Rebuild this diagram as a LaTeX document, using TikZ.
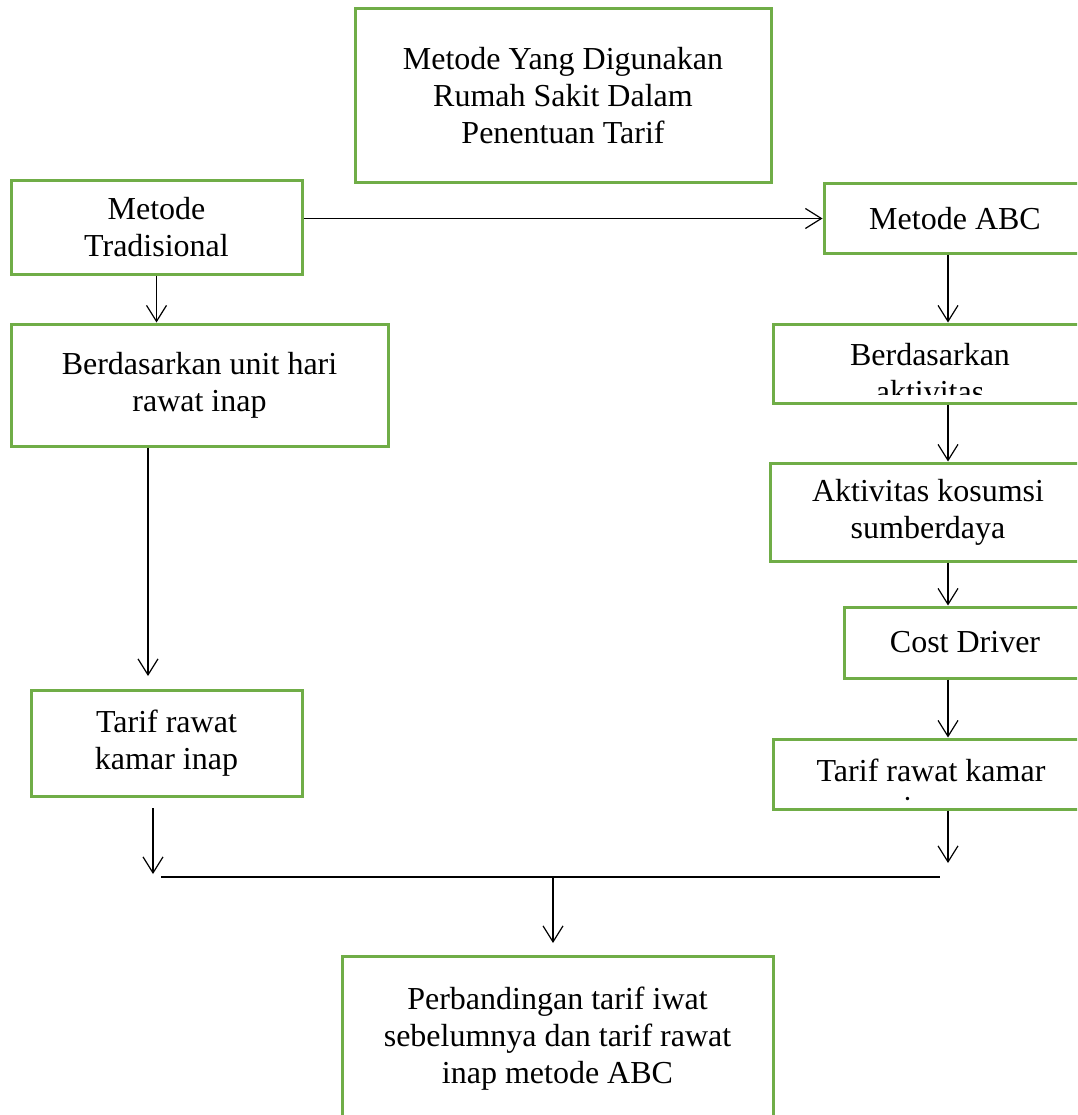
\documentclass[tikz,border=0pt]{standalone}
\usepackage{fontspec}
\setmainfont{Liberation Serif}
\usetikzlibrary{arrows.meta}
\definecolor{boxgreen}{RGB}{112,173,71}
\tikzset{
  box/.style={draw=boxgreen, line width=3pt, rectangle, inner sep=0pt, align=center,
    font=\fontsize{32}{37}\selectfont},
  txt/.style={inner sep=0pt, align=center, font=\fontsize{32}{37}\selectfont},
  conn/.style={draw=black, line width=1.3pt},
  arr/.style={conn, -{Straight Barb[length=16pt,width=20pt,line width=1.2pt]}}
}
\begin{document}
\begin{tikzpicture}[x=1pt,y=-1pt]
\useasboundingbox (0,0) rectangle (1077,1115);
\clip (0,0) rectangle (1077,1115);

% boxes
\node[box, minimum width=416pt, minimum height=174pt] (top) at (563,96)
  {Metode Yang Digunakan\\Rumah Sakit Dalam\\Penentuan Tarif};
\node[box, minimum width=291pt, minimum height=93pt] (trad) at (156.5,227.5)
  {Metode\\Tradisional};
\node[box, minimum width=377pt, minimum height=122pt] (unit) at (199.5,385)
  {Berdasarkan unit hari\\rawat inap};
\node[box, minimum width=271pt, minimum height=106pt] (tarifL) at (166.5,743)
  {Tarif rawat\\kamar inap};
\node[box, minimum width=262pt, minimum height=69pt] (abc) at (955,218.5)
  {Metode ABC};
\node[box, minimum width=314pt, minimum height=79pt] (akt1) at (930,363.5) {};
\begin{scope}
  \clip (akt1.north west) rectangle ([yshift=10pt]akt1.south east);
  \node[txt] (akt1t) at ([yshift=-10pt]akt1.center) {Berdasarkan\\aktivitas};
\end{scope}
\node[box, minimum width=316pt, minimum height=98pt] (akt2) at (928,512)
  {Aktivitas kosumsi\\sumberdaya};
\node[box, minimum width=242pt, minimum height=71pt] (cost) at (965,642.5)
  {Cost Driver};
\node[box, minimum width=316pt, minimum height=70pt] (tarifR) at (931,774) {};
\begin{scope}
  \clip (tarifR.north west) rectangle ([yshift=10.5pt]tarifR.south east);
  \node[txt] (tarifRt) at ([yshift=-18.5pt]tarifR.center) {Tarif rawat kamar\\inap};
\end{scope}
\node[box, minimum width=431pt, minimum height=166pt] (bot) at (557.5,1039)
  {Perbandingan tarif iwat\\sebelumnya dan tarif rawat\\inap metode ABC};

% helper coordinates
\coordinate (rc) at (948,0);
\coordinate (lc) at (148,0);
\coordinate (ltip) at (148,676);
\coordinate (ls) at (153,808);
\coordinate (le) at (153,874);
\coordinate (rj) at (948,863);
\coordinate (hl) at (161,877);
\coordinate (hr) at (940,877);
\coordinate (hm) at (553,877);
\coordinate (btip) at (553,943);

% connectors
\draw[arr] (trad.south) -- (trad.south |- unit.north);
\draw[arr] (abc.west -| trad.east) -- (abc.west);
\draw[arr] (lc |- unit.south) -- (ltip);
\draw[arr] (ls) -- (le);
\draw[arr] (rc |- abc.south) -- (rc |- akt1.north);
\draw[arr] (rc |- akt1.south) -- (rc |- akt2.north);
\draw[arr] (rc |- akt2.south) -- (rc |- cost.north);
\draw[arr] (rc |- cost.south) -- (rc |- tarifR.north);
\draw[arr] (rc |- tarifR.south) -- (rj);
\draw[conn] (hl) -- (hr);
\draw[arr] (hm) -- (btip);
\end{tikzpicture}
\end{document}
